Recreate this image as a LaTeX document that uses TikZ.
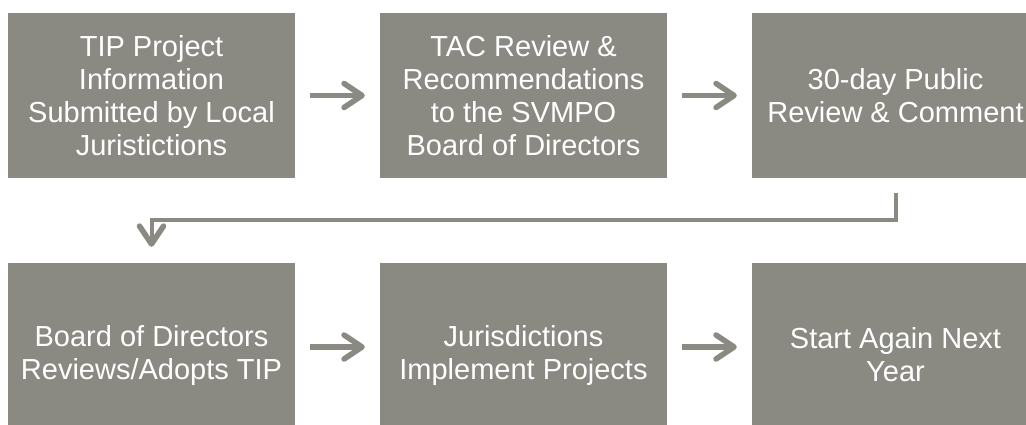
\documentclass[tikz,border=0pt]{standalone}
\usepackage{fontspec}
\setmainfont{Liberation Sans}
\usepackage{xcolor}
\usepackage{tikz}
\usetikzlibrary{positioning,arrows.meta}
\definecolor{stagegray}{RGB}{138,138,131}

\begin{document}
\begin{tikzpicture}[node distance=372pt, auto,
    stage/.style={rectangle, fill=stagegray, text=white, align=center, inner sep=0pt,
        minimum width=287pt, minimum height=165pt, font=\fontsize{29}{33}\selectfont},
    lowstage/.style={stage, minimum height=184pt},
    flow/.style={-{Straight Barb[length=18pt, width=24pt, round, line width=5.5pt]}, line width=5.5pt,
        draw=stagegray, shorten >=15pt, shorten <=15pt}]
    \useasboundingbox (0,0) rectangle (1026pt,-424pt);
    \clip (0,0) rectangle (1026pt,-424pt);

    \node (submit) [stage] at (151.5pt,-95.5pt) {TIP Project\\Information\\Submitted by Local\\Juristictions};
    \node (tac) [stage, right of=submit] {TAC Review \&\\Recommendations\\to the SVMPO\\Board of Directors};
    \node (public) [stage, right of=tac] {30-day Public\\Review \& Comment};
    \node (adopt) [lowstage, below of=submit, node distance=259.5pt] {Board of Directors\\Reviews/Adopts TIP};
    \node (implement) [lowstage, right of=adopt] {Jurisdictions\\Implement Projects};
    \node (again) [lowstage, right of=implement] {Start Again Next\\Year};

    \draw[flow] (submit) -- (tac);
    \draw[flow] (tac) -- (public);
    \draw[flow, line width=4pt, shorten >=16pt] (public.south) -- ++(0,-42pt) -| (adopt.north);
    \draw[flow] ([yshift=8pt]adopt.east) -- ([yshift=8pt]implement.west);
    \draw[flow] ([yshift=8pt]implement.east) -- ([yshift=8pt]again.west);
\end{tikzpicture}
\end{document}
